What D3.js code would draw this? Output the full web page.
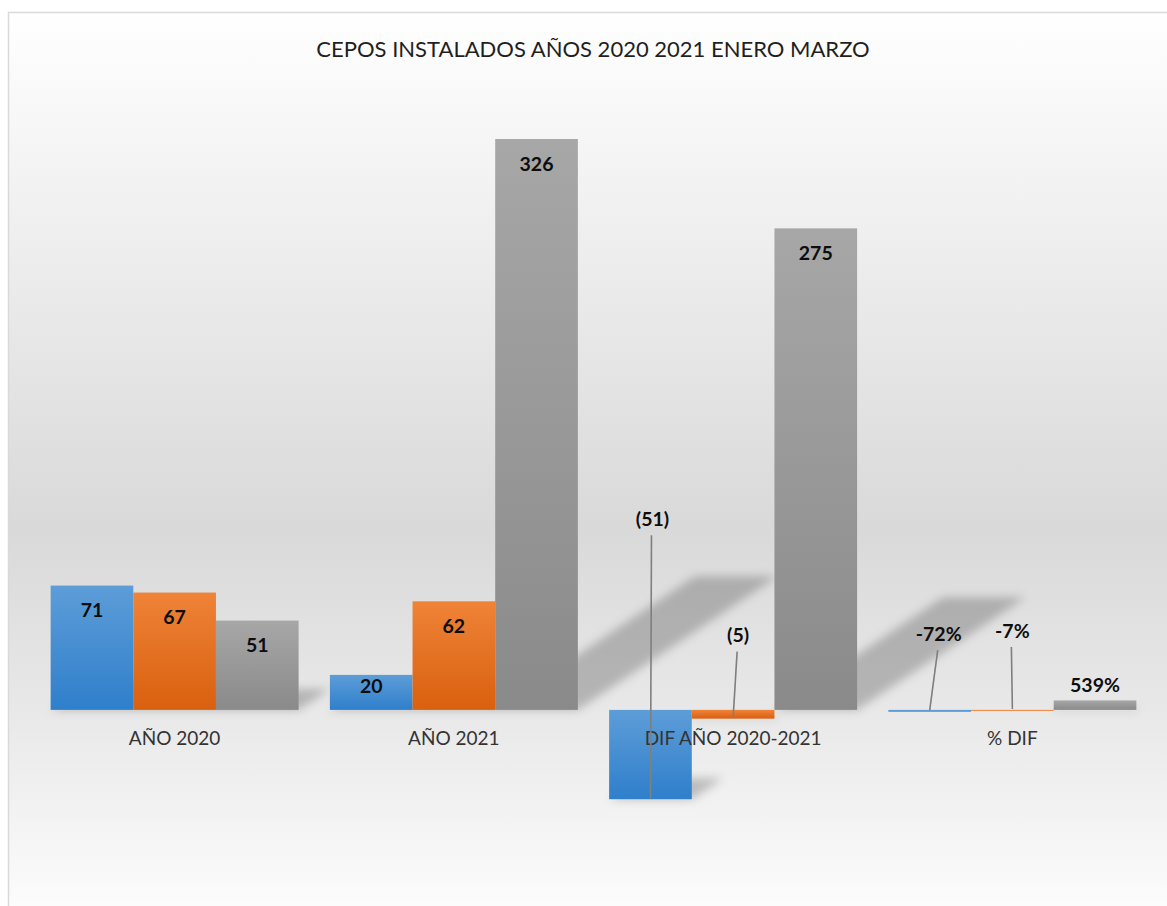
<!DOCTYPE html>
<html>
<head>
<meta charset="utf-8">
<script src="https://cdn.jsdelivr.net/npm/d3@7"></script>
<style>
  html, body { margin: 0; padding: 0; background: #fff; }
  svg { display: block; }
</style>
</head>
<body>
<div id="chart"></div>
<script>
// Chart data
const categories = ['AÑO 2020', 'AÑO 2021', 'DIF AÑO 2020-2021', '% DIF'];
const seriesNames = ['Serie 1', 'Serie 2', 'Serie 3'];
const series1 = [71, 20, -51, -0.72];
const series2 = [67, 62, -5, -0.07];
const series3 = [51, 326, 275, 5.39];
const allSeries = [series1, series2, series3];
const title = 'CEPOS INSTALADOS AÑOS 2020 2021 ENERO MARZO';

// Look
const width = 1167, height = 906;
const fontFamily = 'Lato, "Open Sans", "Liberation Sans", sans-serif';
const gradients = [
    { id: 'g-blue', top: '#5d9dd8', bottom: '#2f7fcb' },
    { id: 'g-orange', top: '#ef8337', bottom: '#d9600f' },
    { id: 'g-grey', top: '#a7a7a7', bottom: '#8a8a8a' }
];

// Manually dragged labels (as in the source chart), key = category-series
const labelMoves = {
    '1-0': { inside: 11.5 },
    '2-0': { dx: 2, dy: -280 },
    '2-1': { dx: 5, dy: -83 },
    '3-0': { dx: 9, dy: -77 },
    '3-1': { dx: 0, dy: -79 },
    '3-2': { outside: 15 }
};

// Excel-style number formats: accounting for counts, percent for the last group
const locale = d3.formatLocale({ decimal: '.', thousands: ',', grouping: [3], currency: ['', ''], minus: '-' });
const fmtCount = v => v < 0 ? `(${Math.abs(v)})` : `${v}`;
const fmtPct = locale.format('.0%');
const fmtLabel = (c, v) => c === 3 ? fmtPct(v) : fmtCount(v);

const svg = d3.select('#chart').append('svg')
    .attr('width', width)
    .attr('height', height);

const defs = svg.append('defs');

// Chart area background
const bg = defs.append('linearGradient')
    .attr('id', 'bg')
    .attr('x1', 0).attr('y1', 0).attr('x2', 0).attr('y2', 1);
[[0, '#ffffff'], [0.3, '#ebebeb'], [0.57, '#d9d9d9'], [0.78, '#e9e9e9'], [1, '#fdfdfd']]
    .forEach(([o, c]) => bg.append('stop').attr('offset', o).attr('stop-color', c));

gradients.forEach(g => {
    const lg = defs.append('linearGradient')
        .attr('id', g.id)
        .attr('x1', 0).attr('y1', 0).attr('x2', 0).attr('y2', 1);
    lg.append('stop').attr('offset', 0).attr('stop-color', g.top);
    lg.append('stop').attr('offset', 1).attr('stop-color', g.bottom);
});

defs.append('filter')
    .attr('id', 'blur')
    .attr('x', '-20%').attr('y', '-20%').attr('width', '140%').attr('height', '140%')
    .append('feGaussianBlur')
    .attr('stdDeviation', 5);

svg.append('rect')
    .attr('x', 8.5).attr('y', 12.5)
    .attr('width', width).attr('height', height)
    .attr('fill', 'url(#bg)')
    .attr('stroke', '#d9d9d9')
    .attr('stroke-width', 1.5);

svg.append('text')
    .attr('x', 593)
    .attr('y', 49)
    .attr('dy', '0.35em')
    .attr('text-anchor', 'middle')
    .attr('font-family', fontFamily)
    .attr('font-size', 22)
    .attr('fill', '#1f1f1f')
    .text(title);

// Scales
const x0 = d3.scaleBand()
    .domain(d3.range(categories.length))
    .range([35, 1152])
    .paddingInner(0.112)
    .paddingOuter(0.056);

const x1 = d3.scaleBand()
    .domain(d3.range(allSeries.length))
    .range([0, x0.bandwidth()]);

const y = d3.scaleLinear()
    .domain([-100, 350])
    .range([885, 97]);

// Flatten points
const points = [];
categories.forEach((cat, c) => {
    allSeries.forEach((vals, s) => {
        const v = vals[c];
        const bx = x0(c) + x1(s);
        const yTop = Math.min(y(v), y(0));
        const h = Math.max(Math.abs(y(v) - y(0)), s === 0 ? 2 : 1);
        points.push({ c, s, v, bx, bw: x1.bandwidth(), yTop, h, yEnd: y(v) });
    });
});

// Perspective shadows (diagonal upper right)
const shadows = svg.append('g')
    .attr('filter', 'url(#blur)')
    .attr('fill', '#000')
    .attr('fill-opacity', 0.22);

shadows.selectAll('path')
    .data(points.filter(p => p.h > 3))
    .enter().append('path')
    .attr('d', p => {
        const base = p.yTop + p.h;
        const sx = p.h * 0.35, sy = p.h * 0.234;
        return `M${p.bx},${base}L${p.bx + p.bw},${base}` +
            `L${p.bx + p.bw + sx},${base - sy}L${p.bx + sx},${base - sy}Z`;
    });

// Bars
svg.append('g')
    .selectAll('rect')
    .data(points)
    .enter().append('rect')
    .attr('x', p => p.bx)
    .attr('y', p => p.yTop)
    .attr('width', p => p.bw)
    .attr('height', p => p.h)
    .attr('fill', p => p.h > 3 ? `url(#${gradients[p.s].id})` : gradients[p.s].top);

// Category labels
svg.append('g')
    .selectAll('text')
    .data(categories)
    .enter().append('text')
    .attr('x', (d, i) => x0(i) + x0.bandwidth() / 2)
    .attr('y', y(0) + 28)
    .attr('dy', '0.35em')
    .attr('text-anchor', 'middle')
    .attr('font-family', fontFamily)
    .attr('font-size', 19)
    .attr('fill', '#333')
    .text(d => d);

// Data labels
const labels = points.map(p => {
    const move = labelMoves[`${p.c}-${p.s}`] || {};
    const cx = p.bx + p.bw / 2;
    let lx = cx, ly, leader = false;
    if (move.dy !== undefined) {
        lx = cx + move.dx;
        ly = p.yEnd + move.dy;
        leader = true;
    } else if (move.outside !== undefined) {
        ly = p.yTop - move.outside;
    } else {
        ly = p.yTop + (move.inside !== undefined ? move.inside : 25);
    }
    return { ...p, cx, lx, ly, leader, text: fmtLabel(p.c, p.v) };
});

svg.append('g')
    .selectAll('line')
    .data(labels.filter(d => d.leader))
    .enter().append('line')
    .attr('x1', d => d.lx - 1)
    .attr('y1', d => d.ly + 16)
    .attr('x2', d => d.cx)
    .attr('y2', d => d.yEnd - 1)
    .attr('stroke', '#7f7f7f')
    .attr('stroke-width', 1.6);

svg.append('g')
    .selectAll('text')
    .data(labels)
    .enter().append('text')
    .attr('x', d => d.lx)
    .attr('y', d => d.ly)
    .attr('dy', '0.35em')
    .attr('text-anchor', 'middle')
    .attr('font-family', fontFamily)
    .attr('font-size', 19.5)
    .attr('font-weight', 'bold')
    .attr('fill', '#0d0d0d')
    .text(d => d.text);
</script>
</body>
</html>
